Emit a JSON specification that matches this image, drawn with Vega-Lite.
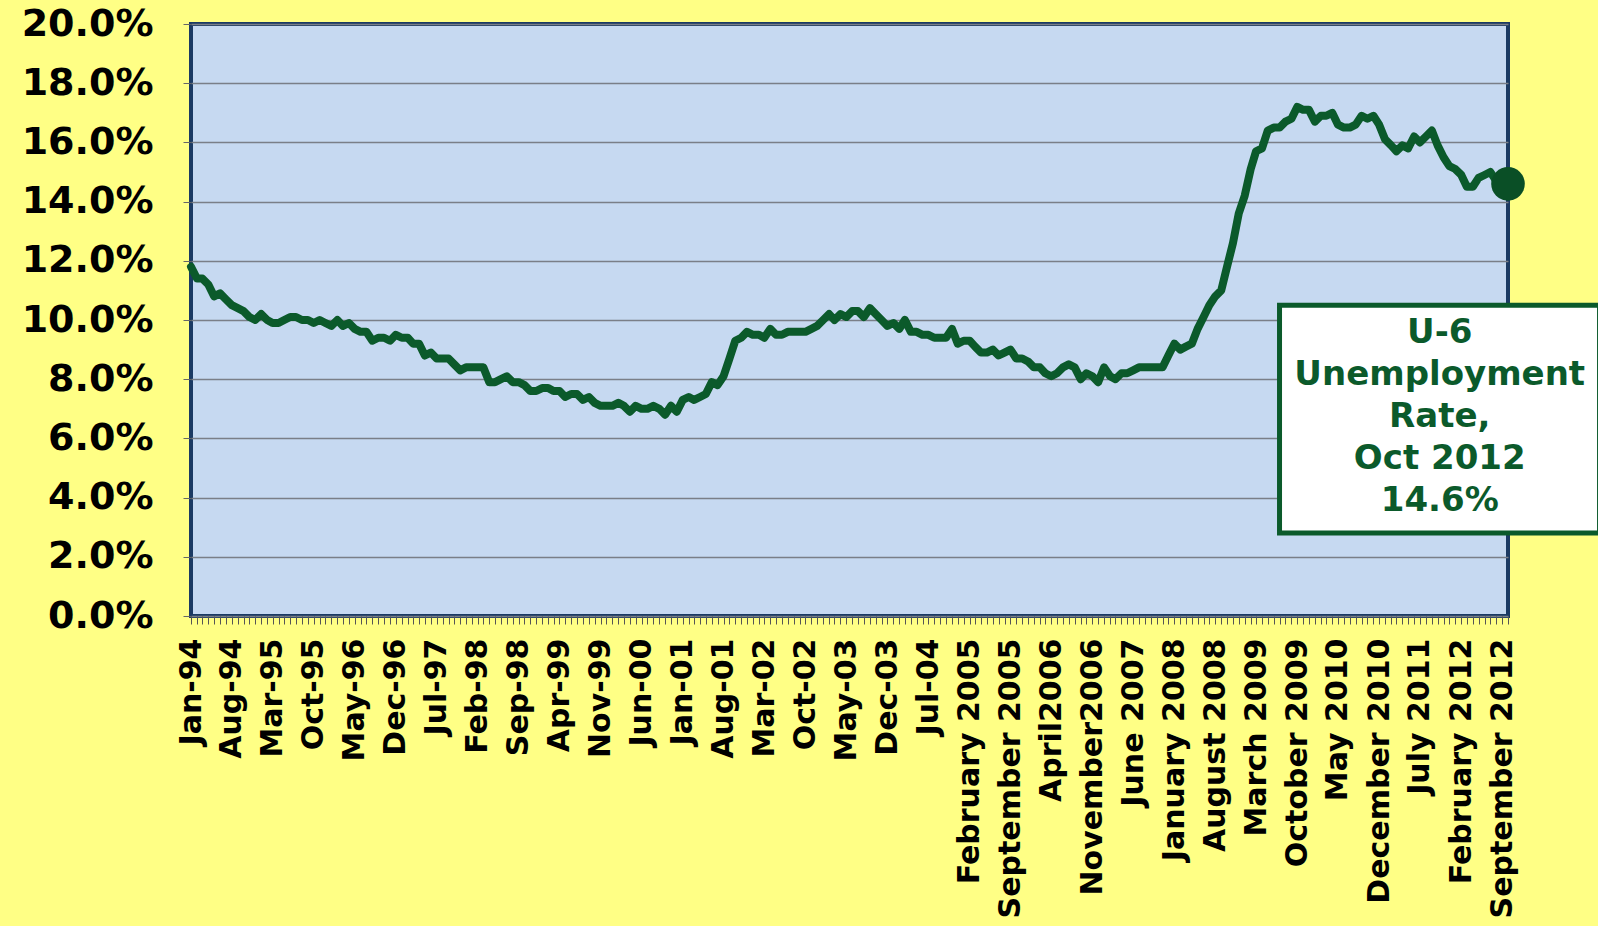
{
  "$schema": "https://vega.github.io/schema/vega-lite/v6.json",
  "autosize": "none",
  "width": 1317,
  "height": 592,
  "padding": {"left": 191, "top": 24, "right": 90, "bottom": 310},
  "background": "#FFFF85",
  "config": {
    "view": {"stroke": "#1B3A63", "strokeWidth": 4, "fill": "#C6D9F1"},
    "font": "DejaVu Sans"
  },
  "datasets": {
    "u6": [
      {"date":"1994-01-01","rate":11.8},{"date":"1994-02-01","rate":11.4},{"date":"1994-03-01","rate":11.4},{"date":"1994-04-01","rate":11.2},{"date":"1994-05-01","rate":10.8},{"date":"1994-06-01","rate":10.9},{"date":"1994-07-01","rate":10.7},{"date":"1994-08-01","rate":10.5},{"date":"1994-09-01","rate":10.4},{"date":"1994-10-01","rate":10.3},{"date":"1994-11-01","rate":10.1},{"date":"1994-12-01","rate":10.0},
      {"date":"1995-01-01","rate":10.2},{"date":"1995-02-01","rate":10.0},{"date":"1995-03-01","rate":9.9},{"date":"1995-04-01","rate":9.9},{"date":"1995-05-01","rate":10.0},{"date":"1995-06-01","rate":10.1},{"date":"1995-07-01","rate":10.1},{"date":"1995-08-01","rate":10.0},{"date":"1995-09-01","rate":10.0},{"date":"1995-10-01","rate":9.9},{"date":"1995-11-01","rate":10.0},{"date":"1995-12-01","rate":9.9},
      {"date":"1996-01-01","rate":9.8},{"date":"1996-02-01","rate":10.0},{"date":"1996-03-01","rate":9.8},{"date":"1996-04-01","rate":9.9},{"date":"1996-05-01","rate":9.7},{"date":"1996-06-01","rate":9.6},{"date":"1996-07-01","rate":9.6},{"date":"1996-08-01","rate":9.3},{"date":"1996-09-01","rate":9.4},{"date":"1996-10-01","rate":9.4},{"date":"1996-11-01","rate":9.3},{"date":"1996-12-01","rate":9.5},
      {"date":"1997-01-01","rate":9.4},{"date":"1997-02-01","rate":9.4},{"date":"1997-03-01","rate":9.2},{"date":"1997-04-01","rate":9.2},{"date":"1997-05-01","rate":8.8},{"date":"1997-06-01","rate":8.9},{"date":"1997-07-01","rate":8.7},{"date":"1997-08-01","rate":8.7},{"date":"1997-09-01","rate":8.7},{"date":"1997-10-01","rate":8.5},{"date":"1997-11-01","rate":8.3},{"date":"1997-12-01","rate":8.4},
      {"date":"1998-01-01","rate":8.4},{"date":"1998-02-01","rate":8.4},{"date":"1998-03-01","rate":8.4},{"date":"1998-04-01","rate":7.9},{"date":"1998-05-01","rate":7.9},{"date":"1998-06-01","rate":8.0},{"date":"1998-07-01","rate":8.1},{"date":"1998-08-01","rate":7.9},{"date":"1998-09-01","rate":7.9},{"date":"1998-10-01","rate":7.8},{"date":"1998-11-01","rate":7.6},{"date":"1998-12-01","rate":7.6},
      {"date":"1999-01-01","rate":7.7},{"date":"1999-02-01","rate":7.7},{"date":"1999-03-01","rate":7.6},{"date":"1999-04-01","rate":7.6},{"date":"1999-05-01","rate":7.4},{"date":"1999-06-01","rate":7.5},{"date":"1999-07-01","rate":7.5},{"date":"1999-08-01","rate":7.3},{"date":"1999-09-01","rate":7.4},{"date":"1999-10-01","rate":7.2},{"date":"1999-11-01","rate":7.1},{"date":"1999-12-01","rate":7.1},
      {"date":"2000-01-01","rate":7.1},{"date":"2000-02-01","rate":7.2},{"date":"2000-03-01","rate":7.1},{"date":"2000-04-01","rate":6.9},{"date":"2000-05-01","rate":7.1},{"date":"2000-06-01","rate":7.0},{"date":"2000-07-01","rate":7.0},{"date":"2000-08-01","rate":7.1},{"date":"2000-09-01","rate":7.0},{"date":"2000-10-01","rate":6.8},{"date":"2000-11-01","rate":7.1},{"date":"2000-12-01","rate":6.9},
      {"date":"2001-01-01","rate":7.3},{"date":"2001-02-01","rate":7.4},{"date":"2001-03-01","rate":7.3},{"date":"2001-04-01","rate":7.4},{"date":"2001-05-01","rate":7.5},{"date":"2001-06-01","rate":7.9},{"date":"2001-07-01","rate":7.8},{"date":"2001-08-01","rate":8.1},{"date":"2001-09-01","rate":8.7},{"date":"2001-10-01","rate":9.3},{"date":"2001-11-01","rate":9.4},{"date":"2001-12-01","rate":9.6},
      {"date":"2002-01-01","rate":9.5},{"date":"2002-02-01","rate":9.5},{"date":"2002-03-01","rate":9.4},{"date":"2002-04-01","rate":9.7},{"date":"2002-05-01","rate":9.5},{"date":"2002-06-01","rate":9.5},{"date":"2002-07-01","rate":9.6},{"date":"2002-08-01","rate":9.6},{"date":"2002-09-01","rate":9.6},{"date":"2002-10-01","rate":9.6},{"date":"2002-11-01","rate":9.7},{"date":"2002-12-01","rate":9.8},
      {"date":"2003-01-01","rate":10.0},{"date":"2003-02-01","rate":10.2},{"date":"2003-03-01","rate":10.0},{"date":"2003-04-01","rate":10.2},{"date":"2003-05-01","rate":10.1},{"date":"2003-06-01","rate":10.3},{"date":"2003-07-01","rate":10.3},{"date":"2003-08-01","rate":10.1},{"date":"2003-09-01","rate":10.4},{"date":"2003-10-01","rate":10.2},{"date":"2003-11-01","rate":10.0},{"date":"2003-12-01","rate":9.8},
      {"date":"2004-01-01","rate":9.9},{"date":"2004-02-01","rate":9.7},{"date":"2004-03-01","rate":10.0},{"date":"2004-04-01","rate":9.6},{"date":"2004-05-01","rate":9.6},{"date":"2004-06-01","rate":9.5},{"date":"2004-07-01","rate":9.5},{"date":"2004-08-01","rate":9.4},{"date":"2004-09-01","rate":9.4},{"date":"2004-10-01","rate":9.4},{"date":"2004-11-01","rate":9.7},{"date":"2004-12-01","rate":9.2},
      {"date":"2005-01-01","rate":9.3},{"date":"2005-02-01","rate":9.3},{"date":"2005-03-01","rate":9.1},{"date":"2005-04-01","rate":8.9},{"date":"2005-05-01","rate":8.9},{"date":"2005-06-01","rate":9.0},{"date":"2005-07-01","rate":8.8},{"date":"2005-08-01","rate":8.9},{"date":"2005-09-01","rate":9.0},{"date":"2005-10-01","rate":8.7},{"date":"2005-11-01","rate":8.7},{"date":"2005-12-01","rate":8.6},
      {"date":"2006-01-01","rate":8.4},{"date":"2006-02-01","rate":8.4},{"date":"2006-03-01","rate":8.2},{"date":"2006-04-01","rate":8.1},{"date":"2006-05-01","rate":8.2},{"date":"2006-06-01","rate":8.4},{"date":"2006-07-01","rate":8.5},{"date":"2006-08-01","rate":8.4},{"date":"2006-09-01","rate":8.0},{"date":"2006-10-01","rate":8.2},{"date":"2006-11-01","rate":8.1},{"date":"2006-12-01","rate":7.9},
      {"date":"2007-01-01","rate":8.4},{"date":"2007-02-01","rate":8.1},{"date":"2007-03-01","rate":8.0},{"date":"2007-04-01","rate":8.2},{"date":"2007-05-01","rate":8.2},{"date":"2007-06-01","rate":8.3},{"date":"2007-07-01","rate":8.4},{"date":"2007-08-01","rate":8.4},{"date":"2007-09-01","rate":8.4},{"date":"2007-10-01","rate":8.4},{"date":"2007-11-01","rate":8.4},{"date":"2007-12-01","rate":8.8},
      {"date":"2008-01-01","rate":9.2},{"date":"2008-02-01","rate":9.0},{"date":"2008-03-01","rate":9.1},{"date":"2008-04-01","rate":9.2},{"date":"2008-05-01","rate":9.7},{"date":"2008-06-01","rate":10.1},{"date":"2008-07-01","rate":10.5},{"date":"2008-08-01","rate":10.8},{"date":"2008-09-01","rate":11.0},{"date":"2008-10-01","rate":11.8},{"date":"2008-11-01","rate":12.6},{"date":"2008-12-01","rate":13.6},
      {"date":"2009-01-01","rate":14.2},{"date":"2009-02-01","rate":15.1},{"date":"2009-03-01","rate":15.7},{"date":"2009-04-01","rate":15.8},{"date":"2009-05-01","rate":16.4},{"date":"2009-06-01","rate":16.5},{"date":"2009-07-01","rate":16.5},{"date":"2009-08-01","rate":16.7},{"date":"2009-09-01","rate":16.8},{"date":"2009-10-01","rate":17.2},{"date":"2009-11-01","rate":17.1},{"date":"2009-12-01","rate":17.1},
      {"date":"2010-01-01","rate":16.7},{"date":"2010-02-01","rate":16.9},{"date":"2010-03-01","rate":16.9},{"date":"2010-04-01","rate":17.0},{"date":"2010-05-01","rate":16.6},{"date":"2010-06-01","rate":16.5},{"date":"2010-07-01","rate":16.5},{"date":"2010-08-01","rate":16.6},{"date":"2010-09-01","rate":16.9},{"date":"2010-10-01","rate":16.8},{"date":"2010-11-01","rate":16.9},{"date":"2010-12-01","rate":16.6},
      {"date":"2011-01-01","rate":16.1},{"date":"2011-02-01","rate":15.9},{"date":"2011-03-01","rate":15.7},{"date":"2011-04-01","rate":15.9},{"date":"2011-05-01","rate":15.8},{"date":"2011-06-01","rate":16.2},{"date":"2011-07-01","rate":16.0},{"date":"2011-08-01","rate":16.2},{"date":"2011-09-01","rate":16.4},{"date":"2011-10-01","rate":15.9},{"date":"2011-11-01","rate":15.5},{"date":"2011-12-01","rate":15.2},
      {"date":"2012-01-01","rate":15.1},{"date":"2012-02-01","rate":14.9},{"date":"2012-03-01","rate":14.5},{"date":"2012-04-01","rate":14.5},{"date":"2012-05-01","rate":14.8},{"date":"2012-06-01","rate":14.9},{"date":"2012-07-01","rate":15.0},{"date":"2012-08-01","rate":14.7},{"date":"2012-09-01","rate":14.7},{"date":"2012-10-01","rate":14.6}
    ],
    "note": [
      {"x": "2009-07-01", "x2": "2014-01-20", "y": 10.5, "y2": 2.8, "tx": "2011-10-12", "ty": 9.55, "label": "U-6\nUnemployment\nRate,\nOct 2012\n14.6%"}
    ]
  },
  "encoding": {
    "x": {
      "field": "date",
      "type": "temporal",
      "scale": {"type": "utc", "nice": false, "domain": [{"year": 1994, "month": 1, "date": 1, "utc": true}, {"year": 2012, "month": 10, "date": 1, "utc": true}]},
      "axis": {
        "title": null,
        "domain": false,
        "grid": false,
        "tickCount": {"interval": "month", "step": 1},
        "tickSize": 8,
        "tickColor": "#555555",
        "tickWidth": 1,
        "labelAngle": -90,
        "labelAlign": "right",
        "labelBaseline": "middle",
        "labelPadding": 14,
        "labelFlush": false,
        "labelOverlap": false,
        "labelBound": false,
        "labelLimit": 500,
        "labelFont": "DejaVu Sans",
        "labelFontWeight": "bold",
        "labelFontSize": 30,
        "labelColor": "#000000",
        "labelExpr": "((utcyear(datum.value)-1994)*12+utcmonth(datum.value))%7 != 0 ? '' : (utcyear(datum.value) < 2005 ? utcFormat(datum.value, '%b-%y') : (utcyear(datum.value) == 2006 ? utcFormat(datum.value, '%B%Y') : utcFormat(datum.value, '%B %Y')))"
      }
    },
    "y": {
      "field": "rate",
      "type": "quantitative",
      "scale": {"domain": [0, 20], "nice": false},
      "axis": {
        "title": null,
        "domain": false,
        "values": [0, 2, 4, 6, 8, 10, 12, 14, 16, 18, 20],
        "grid": true,
        "gridColor": "#7A7F88",
        "gridWidth": 1.5,
        "tickSize": 8,
        "tickColor": "#666666",
        "labelPadding": 30,
        "labelFont": "DejaVu Sans",
        "labelFontWeight": "bold",
        "labelFontSize": 38,
        "labelColor": "#000000",
        "labelExpr": "format(datum.value, '.1f') + '%'"
      }
    }
  },
  "layer": [
    {
      "data": {"name": "u6"},
      "mark": {"type": "line", "color": "#0B5A2B", "strokeWidth": 8, "strokeJoin": "round", "strokeCap": "round"}
    },
    {
      "data": {"name": "u6"},
      "transform": [{"filter": "utcyear(datum.date) == 2012 && utcmonth(datum.date) == 9"}],
      "mark": {"type": "point", "filled": true, "size": 1130, "color": "#0A4F26", "opacity": 1}
    },
    {
      "data": {"name": "note"},
      "mark": {"type": "rect", "fill": "#FFFFFF", "stroke": "#0B5A2B", "strokeWidth": 5},
      "encoding": {
        "x": {"field": "x", "type": "temporal"},
        "x2": {"field": "x2"},
        "y": {"field": "y", "type": "quantitative"},
        "y2": {"field": "y2"}
      }
    },
    {
      "data": {"name": "note"},
      "mark": {"type": "text", "font": "DejaVu Sans", "fontWeight": "bold", "fontSize": 34, "color": "#0B5A2B", "align": "center", "baseline": "middle", "lineBreak": "\n", "lineHeight": 42},
      "encoding": {
        "x": {"field": "tx", "type": "temporal"},
        "y": {"field": "ty", "type": "quantitative"},
        "text": {"field": "label"}
      }
    }
  ]
}
